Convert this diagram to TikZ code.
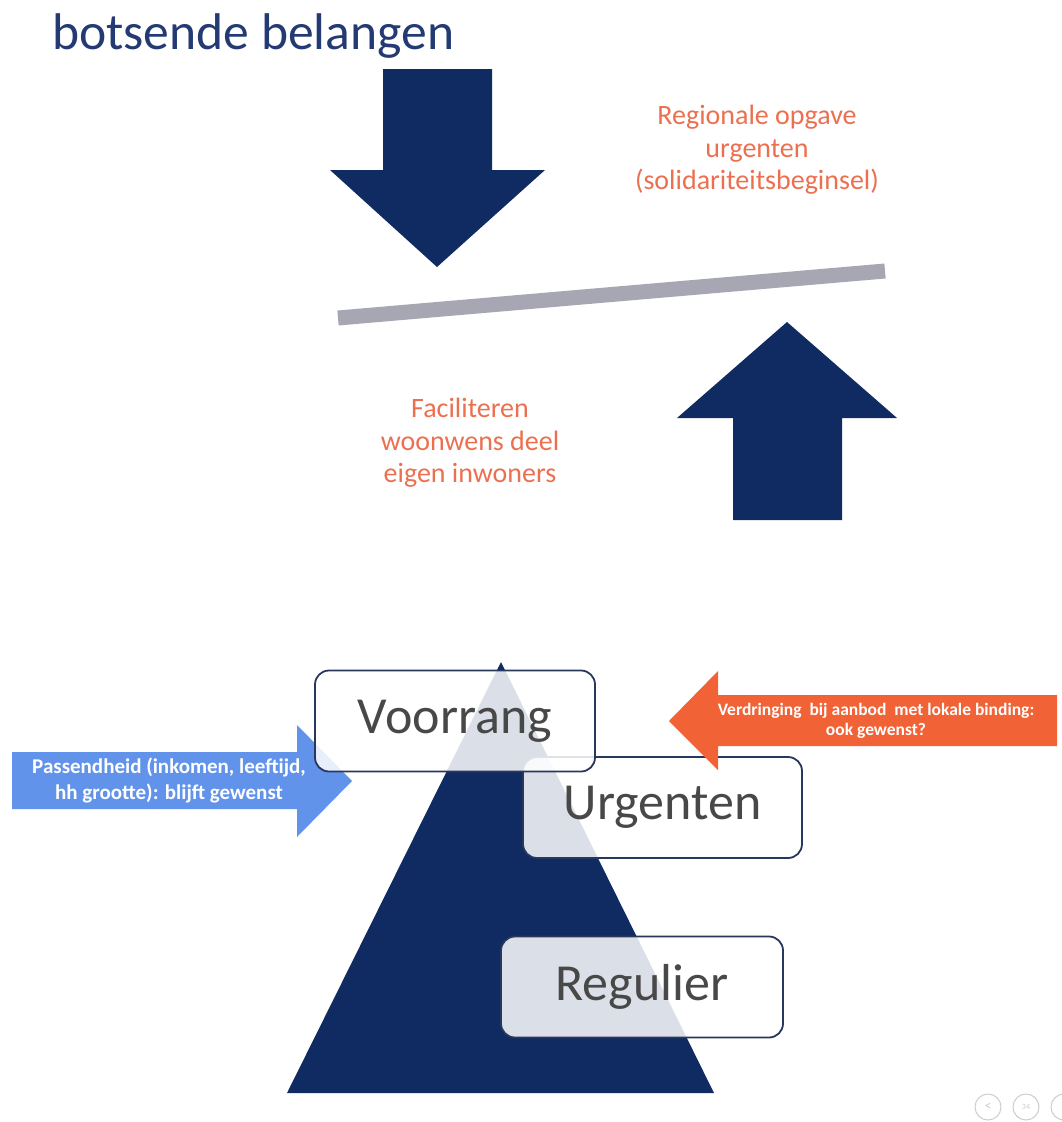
\documentclass[tikz,border=0pt]{standalone}
\usepackage{fontspec}
\setmainfont{Carlito}
\definecolor{navy}{RGB}{16,42,98}
\definecolor{titleblue}{RGB}{35,58,115}
\definecolor{bargray}{RGB}{166,167,178}
\definecolor{orangetext}{RGB}{236,112,80}
\definecolor{orangearrow}{RGB}{241,99,54}
\definecolor{bluearrow}{RGB}{98,147,235}
\definecolor{boxborder}{RGB}{40,55,92}
\definecolor{labelgray}{RGB}{72,72,72}
\definecolor{navgray}{RGB}{205,205,205}
\begin{document}
\begin{tikzpicture}[x=1pt,y=-1pt,
  bigarrow/.style={fill=navy},
  orangelabel/.style={text=orangetext,align=center,inner sep=0pt,
    font=\fontsize{28}{32.5}\selectfont},
  levelbox/.style={draw=boxborder,line width=1.8pt,fill=white,fill opacity=0.85,
    text opacity=1,text=labelgray,rounded corners=14pt,inner sep=0pt,
    minimum height=101pt,font=\fontsize{52}{60}\selectfont},
  arrowtext/.style={text=white,align=center,inner sep=0pt,font=\bfseries},
  navbtn/.style={circle,draw=navgray,line width=1pt,minimum size=26pt,inner sep=0pt,
    text=navgray}
]
\useasboundingbox (0,0) rectangle (1062,1122);
\fill[white] (0,0) rectangle (1062,1122);

% title
\node[anchor=base west,inner sep=0pt,text=titleblue,font=\fontsize{51.6}{60}\selectfont]
  (title) at (52,49) {botsende belangen};

% down arrow
\fill[bigarrow] (383,69) -- (492,69) -- (492,170) -- (545,170) -- (437,267)
  -- (330,170) -- (383,170) -- cycle;
% balance bar
\draw[line width=15pt,bargray] (338,318) -- (885,271);
% up arrow
\fill[bigarrow] (733,520) -- (842,520) -- (842,418) -- (897,418) -- (787,322)
  -- (677,418) -- (733,418) -- cycle;

\node[orangelabel] (regio) at (757,150)
  {Regionale opgave\\urgenten\\(solidariteitsbeginsel)};
\node[orangelabel] (facil) at (470,443)
  {Faciliteren\\woonwens deel\\eigen inwoners};

% pyramid
\fill[navy] (501,662) -- (714,1093) -- (287,1093) -- cycle;

% blue arrow
\fill[bluearrow] (12,752) -- (297,752) -- (297,725) -- (352,781) -- (297,837)
  -- (297,809) -- (12,809) -- cycle;
\node[arrowtext,font=\bfseries\fontsize{21}{26}\selectfont] (pass) at (169,780)
  {Passendheid (inkomen, leeftijd,\\hh grootte): blijft gewenst};

% level boxes
\node[levelbox,minimum width=282pt] (regulier) at (642,987) {Regulier};
\node[levelbox,minimum width=279pt] (urgenten) at (662.5,807.5) {Urgenten};
\node[levelbox,minimum width=280pt] (voorrang) at (455,721) {Voorrang};

% orange arrow
\fill[orangearrow] (1057,695) -- (718,695) -- (718,671) -- (669,721) -- (718,770)
  -- (718,746) -- (1057,746) -- cycle;
\node[arrowtext,font=\bfseries\fontsize{17.5}{19.5}\selectfont] (verdr) at (876,721)
  {Verdringing\ \ bij aanbod\ \ met lokale binding:\\ook gewenst?};

% navigation buttons
\node[navbtn,font=\fontsize{14}{14}\selectfont] (prev) at (988,1107) {<};
\node[navbtn,font=\fontsize{8}{8}\selectfont] (page) at (1026,1107) {34};
\node[navbtn] (next) at (1064,1107) {};
\end{tikzpicture}
\end{document}
